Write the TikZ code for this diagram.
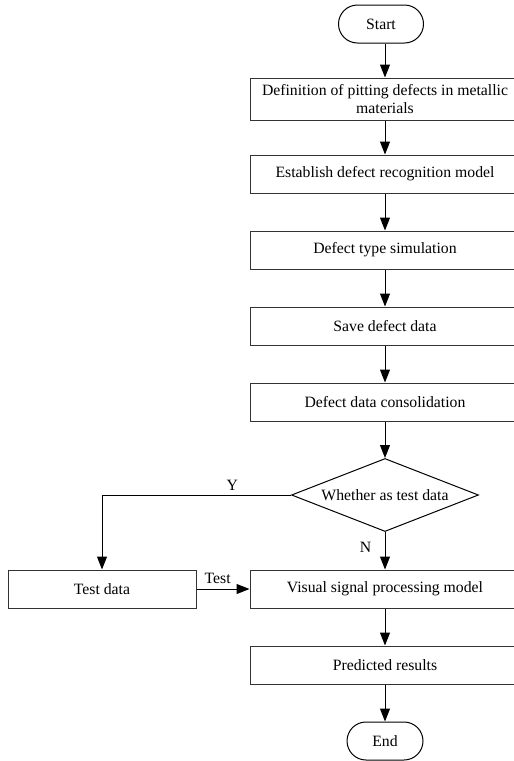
\documentclass[tikz,border=0pt]{standalone}
\usepackage{fontspec}
\setmainfont{Liberation Serif}
\usetikzlibrary{shapes.geometric,arrows.meta}
\tikzset{
  px/.style={x=0.75pt,y=-0.75pt},
  procbox/.style={draw=black!80,line width=0.75pt,rectangle,inner sep=0pt,
    minimum width=202.5pt,minimum height=28.5pt,align=center,
    font=\fontsize{11.8}{13.5}\selectfont},
  termbox/.style={draw=black,line width=0.75pt,rectangle,rounded corners=14.25pt,
    inner sep=0pt,minimum height=28.5pt,font=\fontsize{11.8}{13.5}\selectfont},
  decbox/.style={draw=black,line width=0.75pt,diamond,shape aspect=2.56,inner sep=0pt,
    minimum width=140.25pt,minimum height=54.75pt,font=\fontsize{11.8}{13.5}\selectfont},
  lbl/.style={font=\fontsize{11.8}{13.5}\selectfont,inner sep=0pt},
  flow/.style={line width=0.75pt,-{Triangle[length=9.75pt,width=7.5pt]}},
}
\begin{document}
\begin{tikzpicture}[px]
\useasboundingbox (0,0) rectangle (514,761);
\clip (0,0) rectangle (514,761);
\node[termbox,minimum width=63.75pt] (start) at (381,24) {Start};
\node[procbox,minimum height=31.5pt] (b1) at (385,99) {Definition of pitting defects in metallic\\materials};
\node[procbox] (b2) at (385,174) {Establish defect recognition model};
\node[procbox] (b3) at (385,250) {Defect type simulation};
\node[procbox] (b4) at (385,326) {Save defect data};
\node[procbox] (b5) at (385,402) {Defect data consolidation};
\node[decbox] (dec) at (385,495) {Whether as test data};
\node[procbox,minimum width=141pt] (test) at (102,589) {Test data};
\node[procbox] (vsp) at (385,589) {Visual signal processing model};
\node[procbox] (pred) at (385,665) {Predicted results};
\node[termbox,minimum width=57pt] (end) at (385,741) {End};
\draw[flow] (start.south -| b1.north) -- (b1);
\draw[flow] (b1) -- (b2);
\draw[flow] (b2) -- (b3);
\draw[flow] (b3) -- (b4);
\draw[flow] (b4) -- (b5);
\draw[flow] (b5) -- (dec);
\draw[flow] (dec.west) -| node[pos=0.155,above=3pt,lbl] {Y} (test.north);
\draw[flow] (dec.south) -- node[pos=0.4,left=10pt,lbl] {N} (vsp.north);
\draw[flow] (test.east) -- node[pos=0.4,above=4pt,lbl] {Test} (vsp.west);
\draw[flow] (vsp) -- (pred);
\draw[flow] (pred) -- (end);
\end{tikzpicture}
\end{document}
